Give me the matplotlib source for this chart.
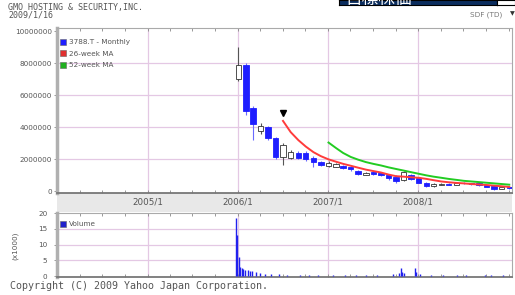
import datetime as dt
import matplotlib
matplotlib.use("Agg")
import matplotlib.pyplot as plt
import matplotlib.dates as mdates
from matplotlib.patches import Rectangle
from matplotlib.lines import Line2D
from matplotlib.ticker import FixedLocator, NullFormatter

plt.rcParams['font.family'] = ['DejaVu Sans', 'Noto Sans CJK JP']

# ---------------- data ----------------
months = ["2006-01", "2006-02", "2006-03", "2006-04", "2006-05", "2006-06",
          "2006-07", "2006-08", "2006-09", "2006-10", "2006-11", "2006-12",
          "2007-01", "2007-02", "2007-03", "2007-04", "2007-05", "2007-06",
          "2007-07", "2007-08", "2007-09", "2007-10", "2007-11", "2007-12",
          "2008-01", "2008-02", "2008-03", "2008-04", "2008-05", "2008-06",
          "2008-07", "2008-08", "2008-09", "2008-10", "2008-11", "2008-12",
          "2009-01"]
open_ = [7000000, 7900000, 5200000, 3800000, 4000000, 3350000,
         2150000, 2100000, 2400000, 2400000, 2100000, 1850000,
         1600000, 1550000, 1600000, 1500000, 1300000, 1050000,
         1200000, 1150000, 1050000, 900000, 700000, 1000000,
         850000, 550000, 350000, 420000, 480000, 420000,
         550000, 500000, 550000, 400000, 350000, 150000,
         250000]
high = [9000000, 8000000, 5300000, 4300000, 4100000, 3400000,
        3050000, 2600000, 2500000, 2500000, 2200000, 1900000,
        1900000, 1750000, 1650000, 1550000, 1350000, 1200000,
        1250000, 1200000, 1100000, 1000000, 1300000, 1100000,
        900000, 600000, 500000, 500000, 520000, 600000,
        600000, 550000, 580000, 420000, 380000, 300000,
        280000]
low = [6900000, 4800000, 3200000, 3600000, 3200000, 2000000,
       1650000, 2000000, 2000000, 1900000, 1550000, 1600000,
       1500000, 1500000, 1400000, 1300000, 1000000, 1000000,
       1050000, 950000, 700000, 550000, 650000, 700000,
       500000, 300000, 300000, 380000, 400000, 400000,
       450000, 420000, 350000, 250000, 100000, 120000,
       150000]
close = [7900000, 5050000, 4200000, 4100000, 3350000, 2150000,
         2900000, 2450000, 2100000, 2000000, 1850000, 1650000,
         1800000, 1700000, 1450000, 1400000, 1100000, 1150000,
         1100000, 1050000, 850000, 650000, 1200000, 750000,
         550000, 350000, 450000, 480000, 420000, 550000,
         500000, 450000, 380000, 300000, 150000, 250000,
         200000]

ma26_months = months[6:]
ma26 = [4400000, 3700000, 3200000, 2800000, 2450000, 2200000,
        2000000, 1850000, 1720000, 1600000, 1480000, 1360000,
        1270000, 1180000, 1050000, 950000, 920000, 880000,
        850000, 780000, 700000, 620000, 570000, 530000,
        500000, 460000, 430000, 400000, 360000, 320000,
        280000]
ma52_months = months[12:]
ma52 = [3050000, 2700000, 2400000, 2150000, 1980000, 1830000,
        1720000, 1620000, 1500000, 1400000, 1300000, 1200000,
        1100000, 1000000, 920000, 850000, 780000, 720000,
        660000, 620000, 580000, 540000, 500000, 460000,
        420000]

marker_date = "2006-07"
marker_value = 4900000

vol_dates = ["2005-12-26", "2005-12-29", "2006-01-04", "2006-01-10", "2006-01-17",
             "2006-01-24", "2006-02-01", "2006-02-10", "2006-02-20", "2006-03-01",
             "2006-03-15", "2006-04-01", "2006-04-20", "2006-05-15", "2006-06-15",
             "2006-07-20", "2006-09-10", "2006-10-15", "2006-11-20", "2007-01-20",
             "2007-03-10", "2007-04-25", "2007-06-05", "2007-07-20", "2007-09-20",
             "2007-10-15", "2007-10-22", "2007-10-29", "2007-11-05", "2007-12-18",
             "2007-12-24", "2008-01-08", "2008-02-20", "2008-04-10", "2008-06-05",
             "2008-07-10", "2008-09-25", "2008-10-20", "2008-12-10"]
vol_values = [18.5, 13.0, 6.0, 3.0, 2.5,
              2.2, 2.0, 1.8, 1.6, 1.5,
              1.2, 1.0, 0.8, 0.6, 0.5,
              0.4, 0.4, 0.3, 0.4, 0.3,
              0.3, 0.4, 0.3, 0.3, 0.5,
              1.0, 2.6, 1.4, 1.0, 2.4,
              1.2, 0.6, 0.4, 0.3, 0.4,
              0.3, 0.3, 0.3, 0.3]

price_ticks = [0, 2000000, 4000000, 6000000, 8000000, 10000000]
price_labels = ["0", "2000000", "4000000", "6000000", "8000000", "10000000"]
vol_ticks = [0, 5, 10, 15, 20]
vol_labels = ["0", "5", "10", "15", "20"]
year_ticks = ["2005-01-01", "2006-01-01", "2007-01-01", "2008-01-01"]
year_labels = ["2005/1", "2006/1", "2007/1", "2008/1"]

title_lines = ["GMO HOSTING & SECURITY,INC.", "2009/1/16"]
legend_labels = ["3788.T - Monthly", "26-week MA", "52-week MA"]

# ---------------- helpers ----------------
W, H = 515, 295
def fx(px):
    return px / W
def fy(py):
    return 1 - py / H

def to_date(s):
    parts = [int(p) for p in s.split("-")]
    if len(parts) == 2:
        parts.append(3)
    return dt.datetime(*parts)

mdt = [to_date(m) for m in months]
xnum = mdates.date2num(mdt)

fig = plt.figure(figsize=(W / 100, H / 100), dpi=100)
fig.patch.set_facecolor("white")

GRID = "#e4c8e4"
TXT = "#555555"
FS = 5.2
MONO = "DejaVu Sans Mono"
x0, x1 = 57, 512

# grey band between panels
fig.patches.append(Rectangle((fx(x0), fy(212)), fx(x1) - fx(x0), fy(193) - fy(212),
                             transform=fig.transFigure, facecolor="#e8e8e8",
                             edgecolor="none", zorder=-5))

ax = fig.add_axes([fx(x0), fy(193), fx(x1) - fx(x0), fy(28) - fy(193)])
axv = fig.add_axes([fx(x0), fy(277), fx(x1) - fx(x0), fy(213) - fy(277)])

xlim = (mdates.date2num(dt.datetime(2004, 1, 1)), mdates.date2num(dt.datetime(2009, 1, 14)))
quarters = mdates.MonthLocator(bymonth=[1, 4, 7, 10])
yt = [mdates.date2num(to_date(s)) for s in year_ticks]

for a in (ax, axv):
    a.set_xlim(*xlim)
    a.set_facecolor("white")
    for y in ([2000000, 4000000, 6000000, 8000000] if a is ax else [5, 10, 15]):
        a.axhline(y, color=GRID, lw=0.9, zorder=0)
    for x in yt:
        a.axvline(x, color=GRID, lw=0.9, zorder=0)
    a.xaxis.set_minor_locator(quarters)
    a.xaxis.set_major_locator(FixedLocator(yt))
    a.tick_params(axis="x", which="both", direction="in", length=2, width=0.6,
                  color="#888888", top=True, bottom=True)
    a.tick_params(axis="y", direction="out", length=2, width=0.6, color="#888888",
                  labelsize=FS, labelcolor=TXT, pad=1.5)
    for s in a.spines.values():
        s.set_color("#aaaaaa")
        s.set_linewidth(0.8)
    a.spines["left"].set_linewidth(2.5)
    a.spines["left"].set_color("#b0b0b0")
    a.spines["bottom"].set_color("#777777")
    a.spines["bottom"].set_linewidth(1.3)

# ---- main panel ----
ax.set_ylim(-100000, 10200000)
ax.set_yticks(price_ticks)
ax.set_yticklabels(price_labels)
ax.set_xticklabels(year_labels)
ax.tick_params(axis="x", which="major", labelsize=6.3, labelcolor=TXT, pad=3.0)

bw = 22
for xi, o, h, l, c in zip(xnum, open_, high, low, close):
    up = c >= o
    face = "white" if up else "#1e1eff"
    edge = "#333333" if up else "#1e1eff"
    wick = "#555555" if up else "#6a6aff"
    ax.vlines(xi, l, h, color=wick, lw=0.8, zorder=2)
    ax.bar(xi, max(abs(c - o), 30000), bottom=min(o, c), width=bw,
           facecolor=face, edgecolor=edge, linewidth=0.6, zorder=3)

ax.plot([to_date(m) for m in ma26_months], ma26, color="#ff3b3b", lw=1.4, zorder=4)
ax.plot([to_date(m) for m in ma52_months], ma52, color="#22cc22", lw=1.4, zorder=4)
ax.plot([to_date(marker_date)], [marker_value], marker="v", color="black",
        markersize=4, linestyle="none", zorder=5)

handles = [Line2D([], [], marker="s", linestyle="none", markersize=4.5,
                  markerfacecolor=c, markeredgecolor="#666666", markeredgewidth=0.4)
           for c in ("#2020ff", "#e03030", "#20b020")]
leg = ax.legend(handles, legend_labels, loc="upper left", bbox_to_anchor=(0.0, 0.955),
                frameon=False, fontsize=FS, handlelength=0.7, handletextpad=0.4,
                labelspacing=0.75, borderaxespad=0.3, borderpad=0.2)
for t in leg.get_texts():
    t.set_color(TXT)

# ---- volume panel ----
axv.set_ylim(-0.3, 20)
axv.set_yticks(vol_ticks)
axv.set_yticklabels(vol_labels)
axv.xaxis.set_major_formatter(NullFormatter())
axv.tick_params(axis="y", pad=5)
axv.vlines([to_date(d) for d in vol_dates], 0, vol_values, color="#2020ee", lw=1.0, zorder=3)
vleg = axv.legend([Line2D([], [], marker="s", linestyle="none", markersize=4.5,
                          markerfacecolor="#2020cc", markeredgecolor="#666666",
                          markeredgewidth=0.4)], ["Volume"],
                  loc="upper left", bbox_to_anchor=(0.0, 0.93), frameon=False,
                  fontsize=FS, handlelength=0.7, handletextpad=0.4,
                  borderaxespad=0.3, borderpad=0.2)
for t in vleg.get_texts():
    t.set_color(TXT)
fig.text(fx(15), fy(246), "(x1000)", rotation=90, fontsize=FS, color=TXT,
         ha="center", va="center")

# ---- texts ----
fig.text(fx(8), fy(7.5), title_lines[0], fontsize=6.0, color=TXT, va="center", family=MONO)
fig.text(fx(8), fy(15), title_lines[1], fontsize=6.0, color=TXT, va="center", family=MONO)
fig.text(fx(10), fy(286), "Copyright (C) 2009 Yahoo Japan Corporation.", fontsize=7.2,
         color=TXT, va="center", family=MONO)
fig.text(fx(502), fy(15), "SDF (TD)", fontsize=5.2, color="#777777", va="center", ha="right")
fig.text(fx(512), fy(14), "▼", fontsize=4.5, color="#333333", va="center", ha="center")

# ---- page overlay at top ----
bx = fig.add_axes([fx(339), fy(5), fx(497) - fx(339), fy(0) - fy(5)])
bx.set_facecolor("#0b2d5e")
bx.set_xticks([]); bx.set_yticks([])
for s in bx.spines.values():
    s.set_color("black"); s.set_linewidth(0.8)
bx.text(0.04, 0.25, "目標株価", transform=bx.transAxes, fontsize=12, color="white",
        family=["Noto Sans CJK JP"], va="baseline", ha="left", clip_on=True)
wb = fig.add_axes([fx(497), fy(5), fx(515) - fx(497), fy(0) - fy(5)])
wb.set_xticks([]); wb.set_yticks([])
for s in wb.spines.values():
    s.set_color("black"); s.set_linewidth(0.8)

fig.savefig("out.png", dpi=100)
